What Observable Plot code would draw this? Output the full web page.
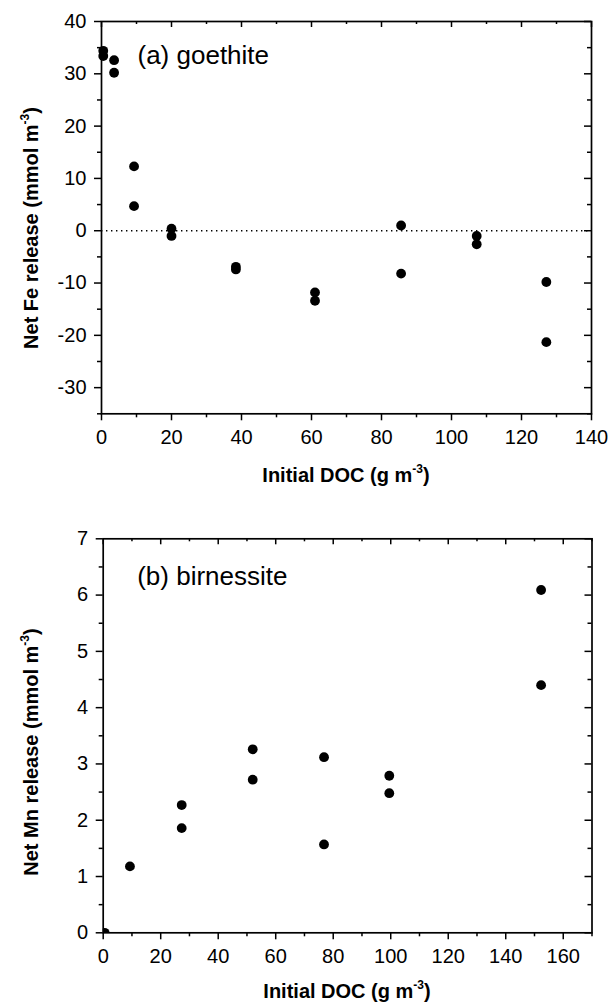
<!DOCTYPE html>
<html><head><meta charset="utf-8">
<script src="https://cdn.jsdelivr.net/npm/d3@7"></script>
<script src="https://cdn.jsdelivr.net/npm/@observablehq/plot@0.6"></script>
<style>
html,body{margin:0;padding:0;background:#fff;}
#chart svg{display:block;}
</style></head><body><div id="chart"></div>
<script>
// ---- Panel (a) goethite data ----
const feDOC = [0.5, 0.5, 3.6, 3.6, 9.3, 9.3, 20, 20, 38.4, 38.4, 61, 61, 85.6, 85.6, 107.2, 107.2, 127.1, 127.1];
const feRelease = [34.4, 33.4, 32.6, 30.2, 12.3, 4.7, 0.4, -1.0, -6.9, -7.4, -11.8, -13.4, 1.0, -8.2, -1.0, -2.6, -9.8, -21.3];
const feXMajor = [0, 20, 40, 60, 80, 100, 120, 140];
const feXMinor = [10, 30, 50, 70, 90, 110, 130];
const feYMajor = [-30, -20, -10, 0, 10, 20, 30, 40];
const feYMinor = [-35, -25, -15, -5, 5, 15, 25, 35];

// ---- Panel (b) birnessite data ----
const mnDOC = [0.5, 9.3, 27.3, 27.3, 52, 52, 76.8, 76.8, 99.5, 99.5, 152.3, 152.3];
const mnRelease = [0, 1.18, 2.27, 1.86, 3.26, 2.72, 3.12, 1.57, 2.79, 2.48, 6.09, 4.40];
const mnXMajor = [0, 20, 40, 60, 80, 100, 120, 140, 160];
const mnXMinor = [10, 30, 50, 70, 90, 110, 130, 150, 170];
const mnYMajor = [0, 1, 2, 3, 4, 5, 6, 7];
const mnYMinor = [0.5, 1.5, 2.5, 3.5, 4.5, 5.5, 6.5];

const FONT = '"Liberation Sans", Arial, Helvetica, sans-serif';
const W = 609;

function panel(o) {
  const innerW = W - o.ml - o.mr;
  const innerH = o.h - o.mt - o.mb;
  const data = o.xs.map((x, i) => ({x, y: o.ys[i]}));
  const marks = [
    ...(o.zeroLine ? [Plot.ruleY([0], {stroke: "#000", strokeWidth: 1.3, strokeDasharray: "1.4,3.6"})] : []),
    Plot.dot(data, {x: "x", y: "y", r: 4.9, fill: "#000", stroke: "none", clip: o.clip}),
    Plot.frame({stroke: "#000", strokeWidth: 1.7}),
    Plot.axisX(o.xMajor, {anchor: "bottom", tickSize: 7, tickPadding: 9, fontSize: 20, strokeWidth: 1.5, tickFormat: d => String(d), label: null}),
    Plot.axisX(o.xMinor, {anchor: "bottom", tickSize: 4, strokeWidth: 1.5, tickFormat: () => "", label: null}),
    Plot.axisY(o.yMajor, {anchor: "left", tickSize: 7, tickPadding: 8, fontSize: 20, strokeWidth: 1.5, tickFormat: d => String(d), label: null}),
    Plot.axisY(o.yMinor, {anchor: "left", tickSize: 4, strokeWidth: 1.5, tickFormat: () => "", label: null}),
    Plot.ruleX(o.xMajor, {stroke: "#000", strokeWidth: 1.5, insetBottom: innerH - 6}),
    Plot.ruleX(o.xMinor, {stroke: "#000", strokeWidth: 1.5, insetBottom: innerH - 3}),
    Plot.ruleY(o.yMajor, {stroke: "#000", strokeWidth: 1.5, insetLeft: innerW - 7}),
    Plot.ruleY(o.yMinor, {stroke: "#000", strokeWidth: 1.5, insetLeft: innerW - 4}),
    Plot.text([o.tag], {text: d => d, frameAnchor: "top-left", dx: o.tagDx, dy: o.tagDy, textAnchor: "start", lineAnchor: "bottom", fontSize: 26, fill: "#000"})
  ];
  const svg = Plot.plot({
    width: W, height: o.h,
    marginTop: o.mt, marginBottom: o.mb, marginLeft: o.ml, marginRight: o.mr,
    x: {domain: o.xDomain, label: null},
    y: {domain: o.yDomain, label: null},
    style: {fontFamily: FONT, fontSize: "20px", color: "#000", background: "#fff", overflow: "visible"},
    marks
  });
  const s = d3.select(svg);
  const xt = s.append("text")
    .attr("x", o.xTitle[0]).attr("y", o.xTitle[1])
    .attr("text-anchor", "middle").attr("font-family", FONT)
    .attr("font-size", 20).attr("font-weight", "bold").attr("fill", "#000");
  xt.append("tspan").text("Initial DOC (g m");
  xt.append("tspan").attr("font-size", 12).attr("dy", -9).text("-3");
  xt.append("tspan").attr("dy", 9).text(")");
  const yt = s.append("text")
    .attr("transform", `translate(${o.yTitle[0]},${o.yTitle[1]}) rotate(-90)`)
    .attr("text-anchor", "middle").attr("font-family", FONT)
    .attr("font-size", 20).attr("font-weight", "bold").attr("fill", "#000");
  yt.append("tspan").text(o.yName + " (mmol m");
  yt.append("tspan").attr("font-size", 12).attr("dy", -9).text("-3");
  yt.append("tspan").attr("dy", 9).text(")");
  return svg;
}

const topPanel = panel({
  h: 500, mt: 21, mb: 86.7, ml: 101, mr: 18,
  xDomain: [0, 140], yDomain: [-35, 40],
  xs: feDOC, ys: feRelease, clip: false,
  xMajor: feXMajor, xMinor: feXMinor, yMajor: feYMajor, yMinor: feYMinor,
  zeroLine: true, tag: "(a) goethite", tagDx: 36, tagDy: 42,
  xTitle: [346, 481.5], yTitle: [38, 228], yName: "Net Fe release"
});
const bottomPanel = panel({
  h: 504, mt: 38.3, mb: 71.7, ml: 102.7, mr: 17.5,
  xDomain: [0, 170], yDomain: [0, 7],
  xs: mnDOC, ys: mnRelease, clip: true,
  xMajor: mnXMajor, xMinor: mnXMinor, yMajor: mnYMajor, yMinor: mnYMinor,
  zeroLine: false, tag: "(b) birnessite", tagDx: 34, tagDy: 46.5,
  xTitle: [347, 497.5], yTitle: [38, 252], yName: "Net Mn release"
});
document.getElementById("chart").append(topPanel, bottomPanel);
</script>
</body></html>
